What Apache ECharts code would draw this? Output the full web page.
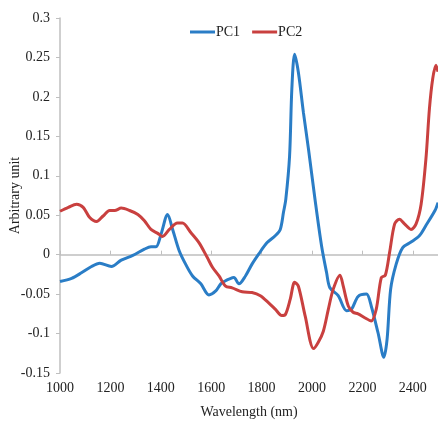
<!DOCTYPE html>
<html>
<head>
<meta charset="utf-8">
<script src="https://cdn.jsdelivr.net/npm/echarts@6/dist/echarts.min.js"></script>
<style>
  html, body { margin: 0; padding: 0; background: #fff; }
  #spectra_chart { width: 438px; height: 423px; }
</style>
</head>
<body>
<div id="spectra_chart"></div>
<script>
var seriesNames = ['PC1', 'PC2'];

var pc1Wavelength = [1000, 1046, 1085, 1125, 1158, 1204, 1243, 1289, 1335, 1361, 1381, 1401, 1427, 1447, 1473, 1500,
    1526, 1559, 1591, 1618, 1638, 1657, 1670, 1690, 1710, 1736, 1762, 1789, 1821, 1854, 1874, 1887, 1896, 1911,
    1920, 1931, 1946, 1966, 1986, 2012, 2038, 2058, 2071, 2104, 2137, 2157, 2183, 2216, 2235, 2262, 2285, 2298,
    2312, 2334, 2360, 2393, 2426, 2452, 2488, 2500];
var pc1Value = [-0.034, -0.030, -0.023, -0.015, -0.011, -0.015, -0.007, -0.001, 0.007, 0.010, 0.010, 0.026, 0.051, 0.032, 0.005, -0.013,
    -0.027, -0.037, -0.051, -0.046, -0.037, -0.033, -0.031, -0.029, -0.037, -0.027, -0.012, 0.001, 0.015, 0.024, 0.032, 0.054, 0.070, 0.125,
    0.210, 0.254, 0.231, 0.180, 0.134, 0.070, 0.011, -0.023, -0.042, -0.052, -0.071, -0.069, -0.053, -0.050, -0.065, -0.099, -0.130, -0.107,
    -0.044, -0.012, 0.009, 0.016, 0.024, 0.037, 0.056, 0.066];

var pc2Wavelength = [1000, 1033, 1066, 1092, 1118, 1145, 1171, 1197, 1217, 1243, 1276, 1309, 1335, 1361, 1388, 1407,
    1434, 1466, 1486, 1519, 1552, 1585, 1605, 1631, 1657, 1683, 1723, 1762, 1795, 1828, 1854, 1880, 1894, 1914,
    1931, 1946, 1973, 2006, 2025, 2045, 2065, 2084, 2111, 2124, 2144, 2163, 2183, 2209, 2235, 2255, 2275, 2291,
    2308, 2328, 2347, 2367, 2393, 2413, 2433, 2452, 2466, 2479, 2492, 2500];
var pc2Value = [0.055, 0.060, 0.064, 0.060, 0.047, 0.042, 0.049, 0.056, 0.056, 0.059, 0.056, 0.051, 0.043, 0.032, 0.027, 0.023,
    0.032, 0.040, 0.040, 0.028, 0.015, -0.004, -0.016, -0.027, -0.040, -0.042, -0.047, -0.048, -0.052, -0.061, -0.069, -0.077, -0.076, -0.056,
    -0.035, -0.040, -0.078, -0.119, -0.111, -0.097, -0.069, -0.044, -0.026, -0.040, -0.065, -0.073, -0.075, -0.080, -0.084, -0.069, -0.029, -0.026,
    0.003, 0.039, 0.045, 0.039, 0.032, 0.039, 0.064, 0.121, 0.185, 0.223, 0.240, 0.232];

var yTicks = { min: -0.15, max: 0.3, interval: 0.05 };
var xTicks = { min: 1000, max: 2500, interval: 200 };

function pairs(xs, ys) {
    var out = [];
    for (var i = 0; i < xs.length; i++) {
        out.push([xs[i], ys[i]]);
    }
    return out;
}

var fontFamily = '"Liberation Serif", "Times New Roman", serif';
var axisGrey = '#bfbfbf';
var textColor = '#222';

var spectraChart = echarts.init(document.getElementById('spectra_chart'));

var option = {
    animation: false,
    color: ['#2a7dc6', '#c9403f'],
    textStyle: { fontFamily: fontFamily },
    grid: { left: 60, right: 0, top: 18, bottom: 50, containLabel: false, outerBoundsMode: 'none' },
    legend: {
        data: seriesNames,
        left: 185,
        top: 20,
        icon: 'rect',
        itemWidth: 25,
        itemHeight: 3,
        itemGap: 12,
        textStyle: { fontFamily: fontFamily, fontSize: 14, color: textColor, padding: [0, 0, 0, -4] }
    },
    xAxis: [
        {
            type: 'value',
            min: xTicks.min,
            max: xTicks.max,
            interval: xTicks.interval,
            position: 'bottom',
            name: 'Wavelength (nm)',
            nameLocation: 'middle',
            nameGap: 32,
            nameMoveOverlap: false,
            nameTextStyle: { fontFamily: fontFamily, fontSize: 14, color: textColor },
            axisLine: { show: false, onZero: false },
            axisTick: { show: false },
            splitLine: { show: false },
            axisLabel: {
                showMaxLabel: false,
                margin: 8,
                fontFamily: fontFamily,
                fontSize: 14,
                color: textColor,
                formatter: function (v) { return String(v); }
            }
        },
        {
            type: 'value',
            min: xTicks.min,
            max: xTicks.max,
            interval: xTicks.interval,
            position: 'bottom',
            axisLine: { show: true, onZero: true, lineStyle: { color: axisGrey, width: 1.5 } },
            axisTick: { show: true, inside: true, length: 4, lineStyle: { color: axisGrey } },
            axisLabel: { show: false },
            splitLine: { show: false }
        }
    ],
    yAxis: {
        type: 'value',
        min: yTicks.min,
        max: yTicks.max,
        interval: yTicks.interval,
        name: 'Arbitrary unit',
        nameLocation: 'middle',
        nameGap: 38,
        nameMoveOverlap: false,
        nameTextStyle: { fontFamily: fontFamily, fontSize: 14, color: textColor },
        axisLine: { show: true, lineStyle: { color: axisGrey, width: 1.5 } },
        axisTick: { show: true, length: 4, lineStyle: { color: axisGrey } },
        splitLine: { show: false },
        axisLabel: {
            margin: 10,
            fontFamily: fontFamily,
            fontSize: 14,
            color: textColor,
            formatter: function (v) { return String(parseFloat(v.toFixed(2))); }
        }
    },
    series: [
        {
            name: seriesNames[0],
            type: 'line',
            xAxisIndex: 0,
            smooth: 0.3,
            symbol: 'none',
            lineStyle: { width: 3 },
            data: pairs(pc1Wavelength, pc1Value)
        },
        {
            name: seriesNames[1],
            type: 'line',
            xAxisIndex: 0,
            smooth: 0.3,
            symbol: 'none',
            lineStyle: { width: 3 },
            data: pairs(pc2Wavelength, pc2Value)
        }
    ]
};

spectraChart.setOption(option);

window.addEventListener('resize', function () {
    if (spectraChart != null && spectraChart != undefined) {
        spectraChart.resize();
    }
});
</script>
</body>
</html>
